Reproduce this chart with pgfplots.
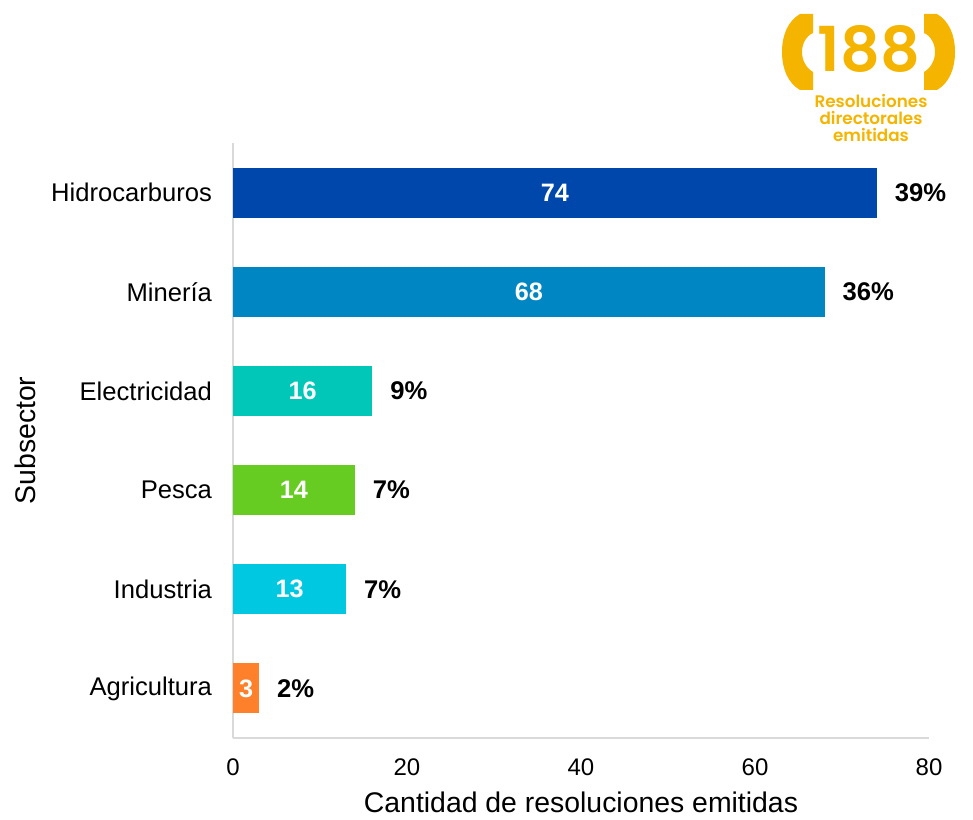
\documentclass[border=0pt]{standalone}
\usepackage{pgfplots}
\pgfplotsset{compat=1.18}
\usepackage{pgfplotstable}
\usepackage{fontspec}
\setmainfont{Liberation Sans}
\newfontfamily\logofont{Poppins}[BoldFont=* SemiBold]

\definecolor{c0}{RGB}{0,71,171}
\definecolor{c1}{RGB}{0,135,195}
\definecolor{c2}{RGB}{0,199,183}
\definecolor{c3}{RGB}{102,204,34}
\definecolor{c4}{RGB}{0,200,225}
\definecolor{c5}{RGB}{255,128,42}
\definecolor{axisgray}{RGB}{217,217,217}
\definecolor{logoyellow}{RGB}{245,180,0}

% subsector position (5 = top), resolutions, share in percent
\pgfplotstableread{
idx n pct
5 74 39
4 68 36
3 16 9
2 14 7
1 13 7
0 3 2
}\datatable

\begin{document}
\begin{tikzpicture}
\begin{axis}[
  scale only axis,
  width=348pt, height=297.5pt,
  xmin=0, xmax=80, ymin=-0.5, ymax=5.5,
  xbar, bar width=25pt, bar shift=0pt,
  axis lines*=left,
  axis line style={axisgray, line width=1pt},
  major tick length=0pt,
  xtick={0,20,40,60,80},
  ytick={0,1,2,3,4,5},
  yticklabels={Agricultura,Industria,Pesca,Electricidad,Minería,Hidrocarburos},
  yticklabel style={font=\fontsize{12.8}{14}\selectfont, xshift=-7pt},
  xticklabel style={font=\fontsize{12}{14}\selectfont, yshift=-7pt},
  /pgf/number format/assume math mode=true,
  xlabel={Cantidad de resoluciones emitidas},
  ylabel={Subsector},
  xlabel style={font=\fontsize{14.2}{16}\selectfont, yshift=-1pt},
  ylabel style={font=\fontsize{14.2}{16}\selectfont, yshift=1pt},
  clip=false,
]
\pgfplotsinvokeforeach{0,...,5}{
  \addplot[draw=none, fill=c#1,
    x filter/.expression={\coordindex==#1 ? x : nan},
    point meta=\thisrow{pct},
    nodes near coords={\pgfmathprintnumber{\pgfplotspointmeta}\%},
    every node near coord/.append style={anchor=west, xshift=5.5pt,
      font=\fontsize{12.8}{14}\selectfont\bfseries, text=black},
  ] table[x=n, y=idx] {\datatable};
}
% counts written in the middle of each bar
\addplot[draw=none, mark=none, xbar=0pt, fill=none,
  point meta=\thisrow{n},
  nodes near coords={\pgfmathprintnumber{\pgfplotspointmeta}},
  every node near coord/.append style={anchor=center, xshift=0pt,
    font=\fontsize{12.6}{14}\selectfont\bfseries, text=white},
  nodes near coords align=center,
] table[x expr=\thisrow{n}/2, y=idx] {\datatable};
\end{axis}

% badge in the upper right corner, drawn in pixel units
\begin{scope}[shift={(-116.5pt,369pt)}, x=0.5pt, y=-0.5pt]
  \def\paren{(813,14) -- (800,14) .. controls (788,21) and (782,35) .. (782,52)
    .. controls (782,69) and (788,83) .. (800,90) -- (813,90) -- (813,72)
    .. controls (806,68) and (802,60) .. (802,52)
    .. controls (802,44) and (806,36) .. (813,33) -- cycle}
  \fill[logoyellow] \paren;
  \begin{scope}[shift={(1737,0)}, xscale=-1]
    \fill[logoyellow] \paren;
  \end{scope}
  \node[text=logoyellow, font=\logofont\bfseries\fontsize{31}{31}\selectfont] at (869,49) {188};
  \node[text=logoyellow, align=center, font=\logofont\bfseries\fontsize{8.4}{8.4}\selectfont]
    at (871,118) {Resoluciones\\directorales\\emitidas};
  \pgfresetboundingbox
  \useasboundingbox (0,0) rectangle (973,819);
\end{scope}
\end{tikzpicture}
\end{document}
